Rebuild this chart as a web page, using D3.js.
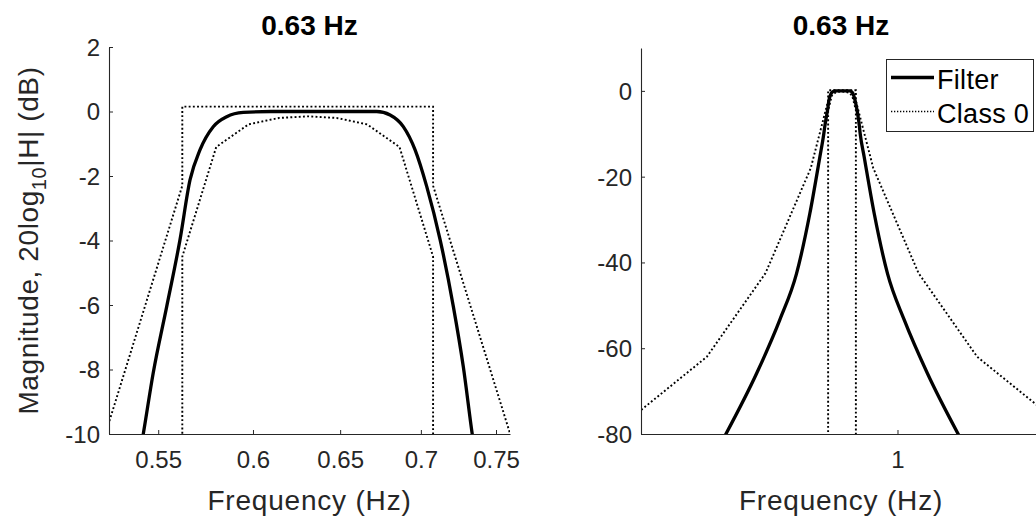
<!DOCTYPE html>
<html>
<head>
<meta charset="utf-8">
<script src="https://cdn.jsdelivr.net/npm/d3@7"></script>
<style>
  body { margin: 0; background: #fff; }
  svg { display: block; font-family: "Liberation Sans", Arial, sans-serif; }
  .tick text { fill: #262626; }
</style>
</head>
<body>
<div id="chart"></div>
<script>
// --------------------------------------
// Data
// --------------------------------------

const centreLabel = "0.63 Hz";

// filter response, frequency (Hz) and magnitude (dB)
const filterFreq = [0.2385, 0.3105, 0.3765, 0.4326, 0.4831, 0.525, 0.5425, 0.5475, 0.5543, 0.5611,
  0.5663, 0.5715, 0.5785, 0.5857, 0.5947, 0.61, 0.631, 0.655, 0.6722, 0.6805, 0.6888, 0.6963,
  0.7038, 0.7125, 0.7212, 0.7278, 0.7338, 0.7585, 0.8243, 0.9205, 1.0576, 1.2825, 1.67];
const filterDb = [-80.5, -65.9, -53.4, -42.6, -28.6, -15.4, -10, -8.1, -6.05, -3.98,
  -2.12, -1.19, -0.47, -0.16, -0.03, 0, 0, 0, 0, -0.11, -0.47, -1.19,
  -2.33, -3.98, -6.05, -7.91, -10, -15.4, -28.6, -42.6, -53.4, -65.9, -80.5];

// class 0 mask, upper limit
const upperFreq = [0.116, 0.2055, 0.3344, 0.4869, 0.5623, 0.5623, 0.7079, 0.7079, 0.8178, 1.1907, 1.937, 3.433];
const upperDb = [-75, -62, -42.5, -18, -2.3, 0.15, 0.15, -2.3, -18, -42.5, -62, -75];

// class 0 mask, lower limit (-200 stands for "no limit", off the axes)
const lowerFreq = [0.5623, 0.5623, 0.5801, 0.5975, 0.6145, 0.631, 0.6479, 0.6663, 0.6864, 0.7079, 0.7079];
const lowerDb = [-200, -4.5, -1.1, -0.4, -0.2, -0.15, -0.2, -0.4, -1.1, -4.5, -200];

const leftXTicks = [0.55, 0.6, 0.65, 0.7, 0.75];
const leftYTicks = [-10, -8, -6, -4, -2, 0, 2];
const rightXTicks = [1];
const rightYTicks = [-80, -60, -40, -20, 0];

const legendNames = ["Filter", "Class 0"];

// --------------------------------------
// Canvas
// --------------------------------------

const width = 1036, height = 517;
const axisColor = "#262626";

const svg = d3.select("#chart")
  .append("svg")
    .attr("width", width)
    .attr("height", height)
    .attr("viewBox", [0, 0, width, height]);

const filterPts = filterFreq.map((f, i) => [f, filterDb[i]]);
const upperPts = upperFreq.map((f, i) => [f, upperDb[i]]);
const lowerPts = lowerFreq.map((f, i) => [f, lowerDb[i]]);

// --------------------------------------
// One panel
// --------------------------------------

function panel(id, x, y, xTicks, yTicks) {
  const [x0, x1] = x.range();
  const [y0, y1] = y.range();

  svg.append("clipPath")
      .attr("id", id)
    .append("rect")
      .attr("x", x0).attr("y", y1)
      .attr("width", x1 - x0).attr("height", y0 - y1);

  const g = svg.append("g");
  const plot = g.append("g").attr("clip-path", `url(#${id})`);

  const line = d3.line()
      .x(d => x(d[0]))
      .y(d => y(d[1]));

  const smooth = d3.line()
      .x(d => x(d[0]))
      .y(d => y(d[1]))
      .curve(d3.curveMonotoneX);

  // mask
  [upperPts, lowerPts].forEach(pts => {
    plot.append("path")
        .attr("d", line(pts))
        .attr("fill", "none")
        .attr("stroke", "#000")
        .attr("stroke-width", 1.9)
        .attr("stroke-dasharray", "1.9 2.3");
  });

  // filter
  plot.append("path")
      .attr("d", smooth(filterPts))
      .attr("fill", "none")
      .attr("stroke", "#000")
      .attr("stroke-width", 3.3)
      .attr("stroke-linejoin", "round");

  // axes
  const plain = d => String(d);
  const ax = g.append("g")
      .attr("transform", `translate(0,${y0})`)
      .call(d3.axisBottom(x).tickValues(xTicks).tickFormat(plain).tickSizeInner(-4).tickSizeOuter(0).tickPadding(17));
  const ay = g.append("g")
      .attr("transform", `translate(${x0},0)`)
      .call(d3.axisLeft(y).tickValues(yTicks).tickFormat(plain).tickSizeInner(-4).tickSizeOuter(0).tickPadding(9));

  [ax, ay].forEach(a => {
    a.select(".domain").attr("stroke", axisColor).attr("stroke-width", 1.1);
    a.selectAll(".tick line").attr("stroke", axisColor).attr("stroke-width", 1);
    a.selectAll(".tick text").attr("font-size", 24).attr("font-family", "Liberation Sans, Arial, sans-serif");
  });
  ay.selectAll(".tick text").attr("dy", "0.35em");

  // labels
  g.append("text")
      .attr("x", (x0 + x1) / 2)
      .attr("y", 35)
      .attr("text-anchor", "middle")
      .attr("font-size", 28)
      .attr("font-weight", "bold")
      .attr("fill", "#000")
      .text(centreLabel);

  g.append("text")
      .attr("x", (x0 + x1) / 2)
      .attr("y", 510)
      .attr("text-anchor", "middle")
      .attr("font-size", 28)
      .attr("letter-spacing", 0.8)
      .attr("fill", axisColor)
      .text("Frequency (Hz)");

  return g;
}

// --------------------------------------
// Scales
// --------------------------------------

const xL = d3.scaleLog().domain([0.5257, 0.7597]).range([109, 510]);
const yL = d3.scaleLinear().domain([-10, 2]).range([434, 47]);

const xR = d3.scaleLog().domain([0.119, 3.29]).range([641, 1041]);
const yR = d3.scaleLinear().domain([-80, 10]).range([434, 48]);

panel("clipL", xL, yL, leftXTicks, leftYTicks);
const right = panel("clipR", xR, yR, rightXTicks, rightYTicks);

// y label on the left panel
const yLabel = svg.append("text")
    .attr("transform", `translate(38,${(47 + 434) / 2}) rotate(-90)`)
    .attr("text-anchor", "middle")
    .attr("font-size", 28)
    .attr("letter-spacing", 0.6)
    .attr("fill", axisColor);
yLabel.append("tspan").text("Magnitude, 20log");
yLabel.append("tspan").attr("font-size", 20).attr("dy", 8).text("10");
yLabel.append("tspan").attr("dy", -8).text("|H| (dB)");

// --------------------------------------
// Legend
// --------------------------------------

const legend = right.append("g");
legend.append("rect")
    .attr("x", 886.5).attr("y", 59.5)
    .attr("width", 147).attr("height", 72)
    .attr("fill", "#fff")
    .attr("stroke", axisColor)
    .attr("stroke-width", 1);

legendNames.forEach((name, i) => {
  const cy = 77.5 + i * 34;
  legend.append("line")
      .attr("x1", 891).attr("x2", 934)
      .attr("y1", cy).attr("y2", cy)
      .attr("stroke", "#000")
      .attr("stroke-width", i === 0 ? 3.3 : 1.3)
      .attr("stroke-dasharray", i === 0 ? null : "1.3 1.7");
  legend.append("text")
      .attr("x", 937)
      .attr("y", cy + 11)
      .attr("font-size", 27)
      .attr("letter-spacing", 0.3)
      .attr("fill", "#000")
      .text(name);
});
</script>
</body>
</html>
